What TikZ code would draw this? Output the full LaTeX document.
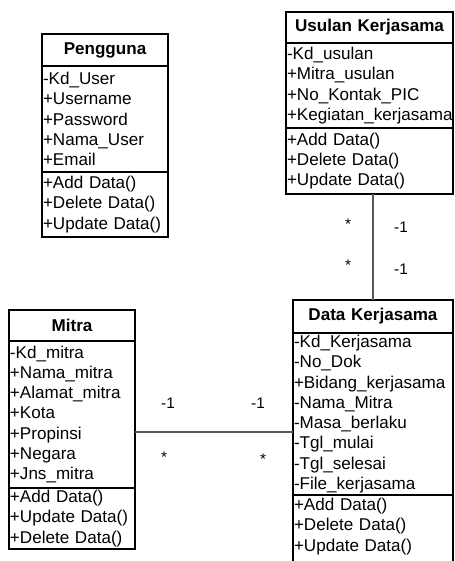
\documentclass[tikz,border=0pt]{standalone}
\usepackage{fontspec}
\setmainfont{Liberation Sans}
\begin{document}
\begin{tikzpicture}[x=0.75pt,y=-0.75pt,
  box/.style={draw, line width=0.9pt, anchor=north west, inner xsep=0.75pt, inner ysep=0pt, outer sep=0pt},
  classtitle/.style={box, font=\bfseries\fontsize{12.8}{15.2}\selectfont, align=center},
  compart/.style={box, font=\fontsize{12.8}{15.2}\selectfont, align=left},
  assoc/.style={draw=black!65, line width=0.8pt},
  mult/.style={font=\fontsize{11.5}{13}\selectfont, inner sep=0pt}]
\useasboundingbox (0,0) rectangle (454,561);

% Pengguna
\node[classtitle, text width=93pt, minimum height=24pt] (peng-t) at (42,34) {Pengguna};
\node[compart, text width=93pt, minimum height=79.5pt] (peng-a) at (peng-t.south west)
  {-Kd\_User\\+Username\\+Password\\+Nama\_User\\+Email};
\node[compart, text width=93pt, minimum height=48.75pt] (peng-m) at (peng-a.south west)
  {+Add Data()\\+Delete Data()\\+Update Data()};

% Usulan Kerjasama
\node[classtitle, text width=123.75pt, minimum height=23.25pt] (usul-t) at (286,12) {Usulan Kerjasama};
\node[compart, text width=123.75pt, minimum height=63.75pt] (usul-a) at (usul-t.south west)
  {-Kd\_usulan\\+Mitra\_usulan\\+No\_Kontak\_PIC\\+Kegiatan\_kerjasama};
\node[compart, text width=123.75pt, minimum height=49.5pt] (usul-m) at (usul-a.south west)
  {+Add Data()\\+Delete Data()\\+Update Data()};

% Mitra
\node[classtitle, text width=93pt, minimum height=23.25pt] (mitra-t) at (9,310) {Mitra};
\node[compart, text width=93pt, minimum height=110.25pt] (mitra-a) at (mitra-t.south west)
  {-Kd\_mitra\\+Nama\_mitra\\+Alamat\_mitra\\+Kota\\+Propinsi\\+Negara\\+Jns\_mitra};
\node[compart, text width=93pt, minimum height=45.75pt] (mitra-m) at (mitra-a.south west)
  {+Add Data()\\+Update Data()\\+Delete Data()};

% Data Kerjasama (runs past the lower edge)
\node[classtitle, text width=118.5pt, minimum height=24.75pt] (data-t) at (293,300) {Data Kerjasama};
\node[compart, text width=118.5pt, minimum height=121.5pt] (data-a) at (data-t.south west)
  {-Kd\_Kerjasama\\-No\_Dok\\+Bidang\_kerjasama\\-Nama\_Mitra\\-Masa\_berlaku\\-Tgl\_mulai\\-Tgl\_selesai\\-File\_kerjasama};
\node[compart, draw=none, text width=118.5pt, minimum height=47.25pt] (data-m) at (data-a.south west)
  {+Add Data()\\+Delete Data()\\+Update Data()};
\draw[line width=0.9pt] (data-m.north west) -- ++(0,75);
\draw[line width=0.9pt] (data-m.north east) -- ++(0,75);

% Associations
\draw[assoc] (data-t.north) -- (data-t.north |- usul-m.south);
\path (mitra-a.east) ++(0,17.5) coordinate (mj);
\draw[assoc] (mj) -- (mj -| data-a.west);

% Multiplicities
\node[mult] (m1) at (348,224) {*};
\node[mult] (m2) at (401,227) {-1};
\node[mult] (m3) at (348,265) {*};
\node[mult] (m4) at (401,269) {-1};
\node[mult] (m5) at (168,403) {-1};
\node[mult] (m6) at (258,403) {-1};
\node[mult] (m7) at (164,457) {*};
\node[mult] (m8) at (263,459) {*};
\end{tikzpicture}
\end{document}
